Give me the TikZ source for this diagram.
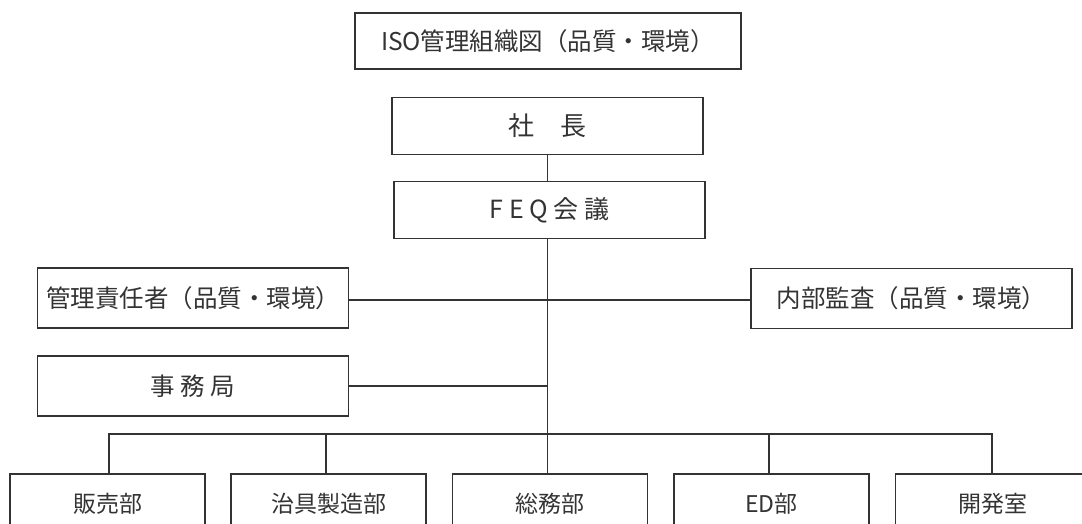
\documentclass[tikz,border=0pt]{standalone}
\usepackage{fontspec}
\setmainfont{Noto Sans CJK JP}
\definecolor{ink}{HTML}{333333}
\begin{document}
\begin{tikzpicture}[x=1pt,y=-1pt,
  box/.style={draw=ink,line width=1.2pt,inner sep=0pt,text=ink,font=\fontsize{24.5}{28}\selectfont},
  wide/.style={box,minimum width=311pt,minimum height=57pt},
  side/.style={box,minimum width=311pt,minimum height=60pt},
  dept/.style={box,minimum width=195pt,minimum height=60pt,font=\fontsize{23}{27}\selectfont},
  link/.style={draw=ink,line width=1.2pt}]
\useasboundingbox (0,0) rectangle (1082,524);
\clip (0,0) rectangle (1082,524);
\node[box,minimum width=386pt,minimum height=56pt] (title) at (548,41) {ISO管理組織図（品質・環境）};
\node[wide,font=\fontsize{26}{30}\selectfont] (pres) at (547.5,126) {社　長};
\node[wide,font=\fontsize{25}{30}\selectfont] (feq) at (549.5,210) {F E Q 会 議};
\node[side] (kanri) at (193,298) {管理責任者（品質・環境）};
\node[box,minimum width=321pt,minimum height=60pt] (naibu) at (911.4,298.6) {内部監査（品質・環境）};
\node[side] (jimu) at (193,386) {事 務 局};
\node[dept] (d1) at (107.5,504) {販売部};
\node[dept] (d2) at (328.5,504) {治具製造部};
\node[dept] (d3) at (550,504) {総務部};
\node[dept] (d4) at (771.5,504) {ED部};
\node[dept] (d5) at (993,504) {開発室};
\coordinate (bus) at (547.5,434);
\coordinate (j1) at (547.5,300);
\coordinate (j2) at (547.5,386);
\draw[link] (pres.south -| bus) -- (feq.north -| bus);
\draw[link] (feq.south -| bus) -- (bus);
\draw[link] (kanri.east |- j1) -- (naibu.west |- j1);
\draw[link] (jimu.east |- j2) -- (j2);
\draw[link] ([xshift=1.5pt]d1.north) |- (bus);
\draw[link] ([xshift=-2.5pt]d2.north) |- (bus);
\draw[link] ([xshift=-2.5pt]d3.north) -- (bus);
\draw[link] ([xshift=-2.5pt]d4.north) |- (bus);
\draw[link] ([xshift=-1pt]d5.north) |- (bus);
\end{tikzpicture}
\end{document}
